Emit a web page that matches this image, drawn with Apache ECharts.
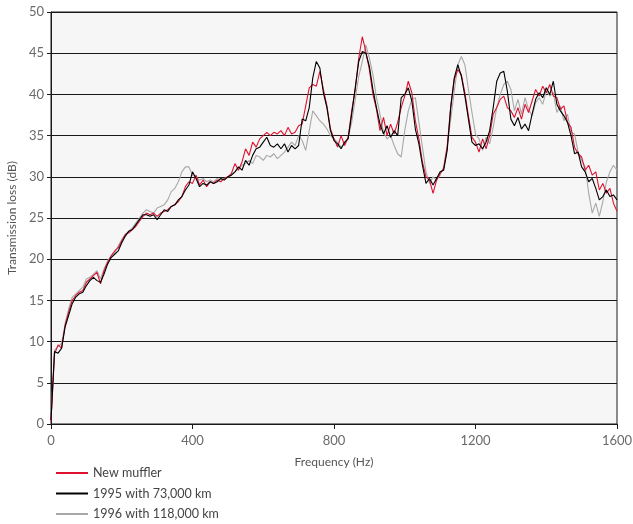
<!DOCTYPE html>
<html>
<head>
<meta charset="utf-8">
<script src="https://cdn.jsdelivr.net/npm/echarts@6/dist/echarts.min.js"></script>
<style>
html,body{margin:0;padding:0;background:#fff;}
#c{width:633px;height:524px;}
</style>
</head>
<body>
<div id="c"></div>
<script>
const freqs = [0,10,20,30,40,50,60,70,80,90,100,110,120,130,140,150,160,170,180,190,200,210,220,230,240,250,260,270,280,290,300,310,320,330,340,350,360,370,380,390,400,410,420,430,440,450,460,470,480,490,500,510,520,530,540,550,560,570,580,590,600,610,620,630,640,650,660,670,680,690,700,710,720,730,740,750,760,770,780,790,800,810,820,830,840,850,860,870,880,890,900,910,920,930,940,950,960,970,980,990,1000,1010,1020,1030,1040,1050,1060,1070,1080,1090,1100,1110,1120,1130,1140,1150,1160,1170,1180,1190,1200,1210,1220,1230,1240,1250,1260,1270,1280,1290,1300,1310,1320,1330,1340,1350,1360,1370,1380,1390,1400,1410,1420,1430,1440,1450,1460,1470,1480,1490,1500,1510,1520,1530,1540,1550,1560,1570,1580,1590,1600];

const newMuffler = [0.4,8.5,9.6,9.2,12.0,13.6,15.0,15.6,16.0,16.2,17.2,17.6,18.0,18.4,17.0,18.6,19.6,20.4,21.0,21.4,22.2,23.0,23.2,23.6,24.0,24.6,25.2,25.6,25.4,25.6,25.2,25.6,25.8,26.0,26.4,26.6,27.0,27.6,28.8,29.4,29.2,30.2,29.0,29.6,28.8,29.4,29.2,29.6,29.4,29.8,30.0,30.4,31.6,30.8,31.8,33.4,32.6,34.2,33.6,34.6,35.0,35.4,35.0,35.4,35.2,35.6,35.0,36.0,35.2,35.4,36.2,36.4,38.6,40.8,41.2,41.0,42.8,40.6,38.6,35.8,34.6,33.6,35.0,33.8,34.8,38.0,40.6,44.4,47.0,45.2,43.0,40.0,38.2,35.6,37.2,35.0,36.4,35.2,36.6,38.4,39.8,41.6,40.2,36.8,34.6,31.8,30.0,29.6,28.0,29.6,30.4,31.0,33.6,38.6,41.8,43.0,42.4,40.2,37.4,34.8,34.2,33.0,34.6,33.4,35.0,37.6,38.4,39.4,39.8,38.4,38.0,37.2,38.4,37.0,38.8,37.8,39.2,40.6,39.8,41.0,40.2,41.2,39.8,39.6,38.2,38.6,36.6,36.0,33.6,32.8,32.4,30.8,31.4,30.2,30.6,28.4,29.2,28.0,28.6,26.8,25.8];

const km73000 = [0.5,8.8,8.6,9.2,11.8,13.2,14.6,15.4,15.8,16.0,16.8,17.4,17.8,17.4,17.2,18.2,19.4,20.2,20.6,21.0,22.0,22.8,23.4,23.6,24.2,24.8,25.4,25.4,25.2,25.4,24.8,25.4,26.0,25.8,26.4,26.6,27.2,27.6,28.4,29.0,30.6,29.8,28.8,29.2,29.0,29.4,29.2,29.4,29.8,29.6,30.0,30.2,30.6,31.2,30.8,32.0,31.4,32.6,33.4,33.6,34.2,34.8,33.8,33.6,34.0,33.4,34.0,33.0,33.8,33.4,33.8,37.0,36.8,38.4,42.0,44.0,43.2,40.2,38.4,35.6,34.4,34.0,33.4,34.2,34.6,37.6,40.8,44.0,45.2,45.0,43.4,40.6,38.4,36.4,35.2,36.2,34.8,35.6,35.0,39.6,40.0,40.8,39.2,35.8,34.0,31.4,29.2,29.8,29.0,29.8,30.6,30.8,33.2,38.4,42.0,43.6,42.2,39.8,37.0,34.2,33.8,34.0,33.4,34.2,35.6,38.4,41.6,42.6,42.8,40.4,37.0,36.2,37.2,35.8,36.4,35.6,37.6,39.4,40.2,39.6,40.8,40.0,41.6,38.8,38.0,37.4,36.6,35.0,32.8,33.0,31.2,30.6,29.4,29.8,28.6,27.2,27.6,28.4,27.6,27.8,27.2];

const km118000 = [0.6,9.0,9.4,9.8,12.2,14.0,15.4,15.8,16.2,16.6,17.6,17.8,18.2,18.6,17.6,18.8,19.8,20.4,20.8,21.6,22.4,23.0,23.4,23.8,24.4,25.0,25.6,26.0,25.8,25.6,26.2,26.4,26.6,27.2,28.2,28.6,29.4,30.6,31.2,31.2,30.2,30.0,29.6,29.8,29.4,29.6,29.4,29.8,29.6,29.8,30.0,30.2,30.6,31.0,31.4,31.6,32.0,31.6,32.6,32.4,32.0,32.6,32.4,32.8,32.2,32.6,33.0,33.6,34.2,33.8,35.0,34.4,33.2,35.6,38.0,37.4,36.8,36.4,35.8,35.0,34.6,34.2,33.6,34.0,34.8,36.6,39.4,42.2,44.0,46.0,44.4,42.4,39.6,37.6,35.4,34.6,35.0,33.8,32.8,32.4,35.6,38.0,39.4,39.6,36.6,33.6,30.6,29.2,30.0,29.6,30.2,31.2,33.8,37.0,40.4,43.6,44.6,43.6,40.6,37.8,35.2,34.6,33.2,34.8,34.0,36.0,38.4,40.0,41.2,41.6,40.6,38.0,39.4,37.6,39.6,38.2,37.4,39.0,39.6,38.8,40.4,39.8,40.2,37.8,38.6,36.8,37.6,35.4,35.2,33.0,32.0,31.2,28.0,25.6,26.8,25.2,27.0,29.4,30.6,31.4,30.8];

const seriesNames = ['New muffler','1995 with 73,000 km','1996 with 118,000 km'];
const seriesColors = ['#e0102f','#000000','#a8a8a8'];
const xTicks = [0,400,800,1200,1600];
const yTicks = [0,5,10,15,20,25,30,35,40,45,50];

function pairs(vals){ return freqs.map((f,i)=>[f, vals[i]]); }

const FONT = 'Lato';
const chart = echarts.init(document.getElementById('c'), null, {renderer:'canvas'});
chart.setOption({
  animation:false,
  backgroundColor:'#ffffff',
  grid:{left:51,right:16,top:12,bottom:100,outerBoundsMode:'none',containLabel:false,show:true,backgroundColor:'#f6f6f6',borderColor:'#1a1a1a',borderWidth:1},
  xAxis:{
    type:'value',min:xTicks[0],max:xTicks[xTicks.length-1],interval:400,
    name:'Frequency (Hz)',nameLocation:'middle',nameGap:32,
    nameTextStyle:{color:'#555',fontSize:12,fontFamily:FONT},
    axisLine:{show:true,lineStyle:{color:'#1a1a1a',width:1}},
    axisTick:{show:true,length:5,inside:false,lineStyle:{color:'#1a1a1a'}},
    axisLabel:{color:'#6a6a6a',fontSize:13,fontFamily:FONT,margin:10,formatter:v=>String(v)},
    splitLine:{show:false}
  },
  yAxis:{
    type:'value',min:yTicks[0],max:yTicks[yTicks.length-1],interval:5,
    name:'Transmission loss (dB)',nameLocation:'middle',nameGap:31,nameRotate:90,
    nameTextStyle:{color:'#555',fontSize:12,fontFamily:FONT},
    axisLine:{show:true,lineStyle:{color:'#1a1a1a',width:1}},
    axisTick:{show:true,length:4,lineStyle:{color:'#1a1a1a'}},
    axisLabel:{color:'#6a6a6a',fontSize:13,fontFamily:FONT,margin:7},
    splitLine:{show:true,lineStyle:{color:'#1a1a1a',width:1}}
  },
  legend:{
    orient:'vertical',left:56,top:466,height:80,padding:0,itemWidth:32,itemHeight:2,itemGap:6.5,
    icon:'rect',
    data:seriesNames,
    textStyle:{color:'#444',fontSize:12.5,fontFamily:FONT,lineHeight:14}
  },
  series:[
    {name:seriesNames[2],type:'line',symbol:'none',data:pairs(km118000),lineStyle:{color:seriesColors[2],width:1.1},itemStyle:{color:seriesColors[2]},z:2},
    {name:seriesNames[0],type:'line',symbol:'none',data:pairs(newMuffler),lineStyle:{color:seriesColors[0],width:1.1},itemStyle:{color:seriesColors[0]},z:3},
    {name:seriesNames[1],type:'line',symbol:'none',data:pairs(km73000),lineStyle:{color:seriesColors[1],width:1.1},itemStyle:{color:seriesColors[1]},z:4}
  ]
});
</script>
</body>
</html>
